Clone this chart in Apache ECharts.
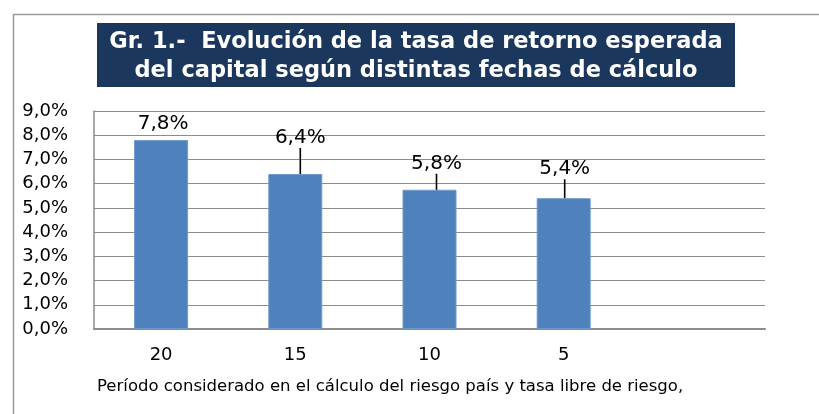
<!DOCTYPE html>
<html>
<head>
<meta charset="utf-8">
<script src="https://cdn.jsdelivr.net/npm/echarts@6/dist/echarts.min.js"></script>
<style>
    html, body { margin: 0; padding: 0; background: #fff; }
    #chart { width: 819px; height: 414px; }
</style>
</head>
<body>
<div id="chart"></div>
<script>
// periodos (años) y tasa de retorno esperada (%)
var categories = ["20", "15", "10", "5", ""];
var values = [7.8, 6.4, 5.75, 5.4];
var yTicks = { min: 0, max: 9, step: 1 };
var titleLines = [
    "Gr. 1.-  Evolución de la tasa de retorno esperada",
    "del capital según distintas fechas de cálculo"
];
var xTitle = "Período considerado en el cálculo del riesgo país y tasa libre de riesgo,";

// desplazamiento de las etiquetas (px)
var labelShift = [[2, 3], [5, -17], [7, -7], [1, -10]];

function fmt(v) {
    return v.toFixed(1).replace(".", ",") + "%";
}

var myChart = echarts.init(document.getElementById("chart"));

var option = {
    animation: false,
    grid: {
        left: 94,
        right: 54,
        top: 111,
        bottom: 85
    },
    xAxis: {
        type: "category",
        data: categories,
        axisLine: {
            lineStyle: { color: "#8c8c8c", width: 2 }
        },
        axisTick: { show: false },
        axisLabel: {
            margin: 17,
            color: "#000",
            fontFamily: "DejaVu Sans",
            fontSize: 18
        }
    },
    yAxis: {
        type: "value",
        min: yTicks.min,
        max: yTicks.max,
        interval: yTicks.step,
        axisLine: {
            show: true,
            lineStyle: { color: "#8c8c8c", width: 1.5 }
        },
        axisTick: { show: false },
        splitLine: {
            lineStyle: { color: "#8c8c8c", width: 1.2 }
        },
        axisLabel: {
            margin: 26,
            color: "#000",
            fontFamily: "DejaVu Sans",
            fontSize: 18,
            formatter: fmt
        }
    },
    series: [
        {
            type: "bar",
            barWidth: 54,
            data: values.map(function(v, i) {
                return {
                    value: v,
                    labelLine: { show: i > 0 }
                };
            }),
            itemStyle: {
                color: "#4f81bd",
                borderColor: "#6f99cc",
                borderWidth: 1
            },
            label: {
                show: true,
                position: "top",
                distance: 0,
                padding: [0, 0, 9, 0],
                color: "#000",
                fontFamily: "DejaVu Sans",
                fontSize: 20,
                formatter: function(p) {
                    return fmt(p.value);
                }
            },
            labelLine: {
                show: true,
                lineStyle: { color: "#000", width: 1.6 }
            },
            labelLayout: function(params) {
                var s = labelShift[params.dataIndex] || [0, 0];
                return { dx: s[0], dy: s[1] };
            }
        }
    ],
    graphic: [
        {
            type: "rect",
            left: 11,
            top: 12,
            shape: { width: 900, height: 500 },
            style: { fill: "none", stroke: "#9a9a9a", lineWidth: 1.5 },
            silent: true
        },
        {
            type: "rect",
            left: 97,
            top: 23,
            shape: { width: 638, height: 64 },
            style: { fill: "#1b375e" }
        },
        {
            type: "text",
            x: 416,
            y: 42,
            style: {
                text: titleLines[0],
                fill: "#fff",
                font: "bold 22.5px 'DejaVu Sans'",
                align: "center",
                verticalAlign: "middle"
            }
        },
        {
            type: "text",
            x: 416,
            y: 71,
            style: {
                text: titleLines[1],
                fill: "#fff",
                font: "bold 22.5px 'DejaVu Sans'",
                align: "center",
                verticalAlign: "middle"
            }
        },
        {
            type: "text",
            x: 97,
            y: 387,
            style: {
                text: xTitle,
                fill: "#000",
                font: "16.5px 'DejaVu Sans'",
                align: "left",
                verticalAlign: "middle"
            }
        }
    ]
};

myChart.setOption(option);
window.addEventListener("resize", myChart.resize);
</script>
</body>
</html>
